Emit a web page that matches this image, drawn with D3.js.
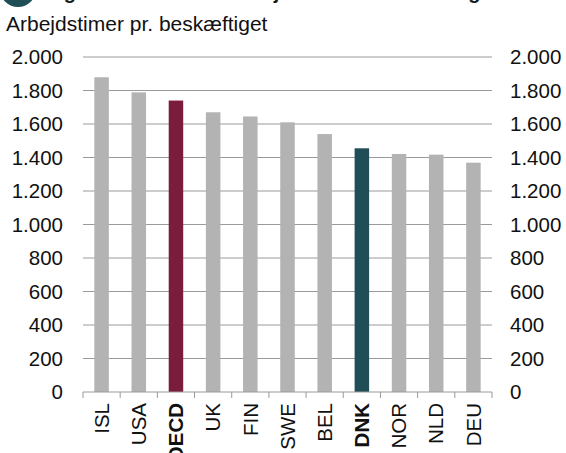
<!DOCTYPE html>
<html>
<head>
<meta charset="utf-8">
<script src="https://cdn.jsdelivr.net/npm/d3@7"></script>
<style>
  body { margin: 0; background: #fff; }
  svg { font-family: "Liberation Sans", Arial, sans-serif; }
</style>
</head>
<body>
<div id="chart"></div>
<script>
// data
const countries = ["ISL", "USA", "OECD", "UK", "FIN", "SWE", "BEL", "DNK", "NOR", "NLD", "DEU"];
const hours = [1879, 1789, 1740, 1670, 1645, 1610, 1540, 1455, 1421, 1417, 1369];
const highlighted = ["OECD", "DNK"];
const yTicks = [0, 200, 400, 600, 800, 1000, 1200, 1400, 1600, 1800, 2000];

const barColours = {OECD: "#7a1d3d", DNK: "#1f4e56"};

const width = 566, height = 453;
const margin = {top: 57, right: 74, bottom: 61, left: 83};
const innerW = width - margin.left - margin.right,
    innerH = height - margin.top - margin.bottom;

const svg = d3.select("#chart").append("svg")
    .attr("width", width)
    .attr("height", height);

// header, cropped at the top edge like the reference
svg.append("circle")
    .attr("cx", 18).attr("cy", -11).attr("r", 18)
    .attr("fill", "#1f4e56");
svg.append("text")
    .attr("x", 46).attr("y", -1)
    .attr("font-size", 20).attr("font-weight", "bold")
    .attr("fill", "#1a1a1a")
    .text("Figur 1. Danskerne arbejder færre timer end gennemsnittet");

svg.append("text")
    .attr("x", 6).attr("y", 31)
    .attr("font-size", 21)
    .attr("fill", "#111")
    .text("Arbejdstimer pr. beskæftiget");

const g = svg.append("g")
    .attr("transform", `translate(${margin.left},${margin.top})`);

const x = d3.scaleBand()
    .domain(countries)
    .range([0, innerW])
    .paddingInner(0.61)
    .paddingOuter(0.305);

const y = d3.scaleLinear()
    .domain([0, 2000])
    .range([innerH, 0]);

const fmt = v => d3.format(",")(v).replace(/,/g, ".");

// gridlines
g.append("g")
    .selectAll("line")
    .data(yTicks.filter(d => d > 0))
    .join("line")
    .attr("x1", 0).attr("x2", innerW)
    .attr("y1", d => y(d)).attr("y2", d => y(d))
    .attr("stroke", "#9a9a9a")
    .attr("stroke-width", 1);

// left + right tick labels
g.append("g")
    .call(d3.axisLeft(y).tickValues(yTicks).tickFormat(fmt).tickSize(0).tickPadding(20))
    .call(a => a.select(".domain").remove())
    .selectAll("text")
    .attr("font-size", 20.5)
    .attr("fill", "#111");

g.append("g")
    .attr("transform", `translate(${innerW},0)`)
    .call(d3.axisRight(y).tickValues(yTicks).tickFormat(fmt).tickSize(0).tickPadding(18))
    .call(a => a.select(".domain").remove())
    .selectAll("text")
    .attr("font-size", 20.5)
    .attr("fill", "#111");

// bars
g.selectAll("rect.bar")
    .data(countries.map((c, i) => ({country: c, value: hours[i]})))
    .join("rect")
    .attr("class", "bar")
    .attr("x", d => x(d.country))
    .attr("y", d => y(d.value))
    .attr("width", x.bandwidth())
    .attr("height", d => innerH - y(d.value))
    .attr("fill", d => barColours[d.country] || "#b3b3b3");

// bottom axis, tick marks sit between the bands
const step = x.step();
const xAxis = g.append("g")
    .attr("transform", `translate(0,${innerH})`);
xAxis.append("line")
    .attr("x1", 0).attr("x2", innerW)
    .attr("stroke", "#9a9a9a");
xAxis.selectAll("line.tick")
    .data(d3.range(countries.length + 1))
    .join("line")
    .attr("class", "tick")
    .attr("x1", i => i * step).attr("x2", i => i * step)
    .attr("y1", 0).attr("y2", 6)
    .attr("stroke", "#9a9a9a");

xAxis.selectAll("text")
    .data(countries)
    .join("text")
    .attr("transform", d => `translate(${x(d) + x.bandwidth() / 2},11) rotate(-90)`)
    .attr("text-anchor", "end")
    .attr("dy", "0.35em")
    .attr("font-size", 20.5)
    .attr("font-weight", d => highlighted.includes(d) ? "bold" : "normal")
    .attr("fill", "#111")
    .text(d => d);
</script>
</body>
</html>
